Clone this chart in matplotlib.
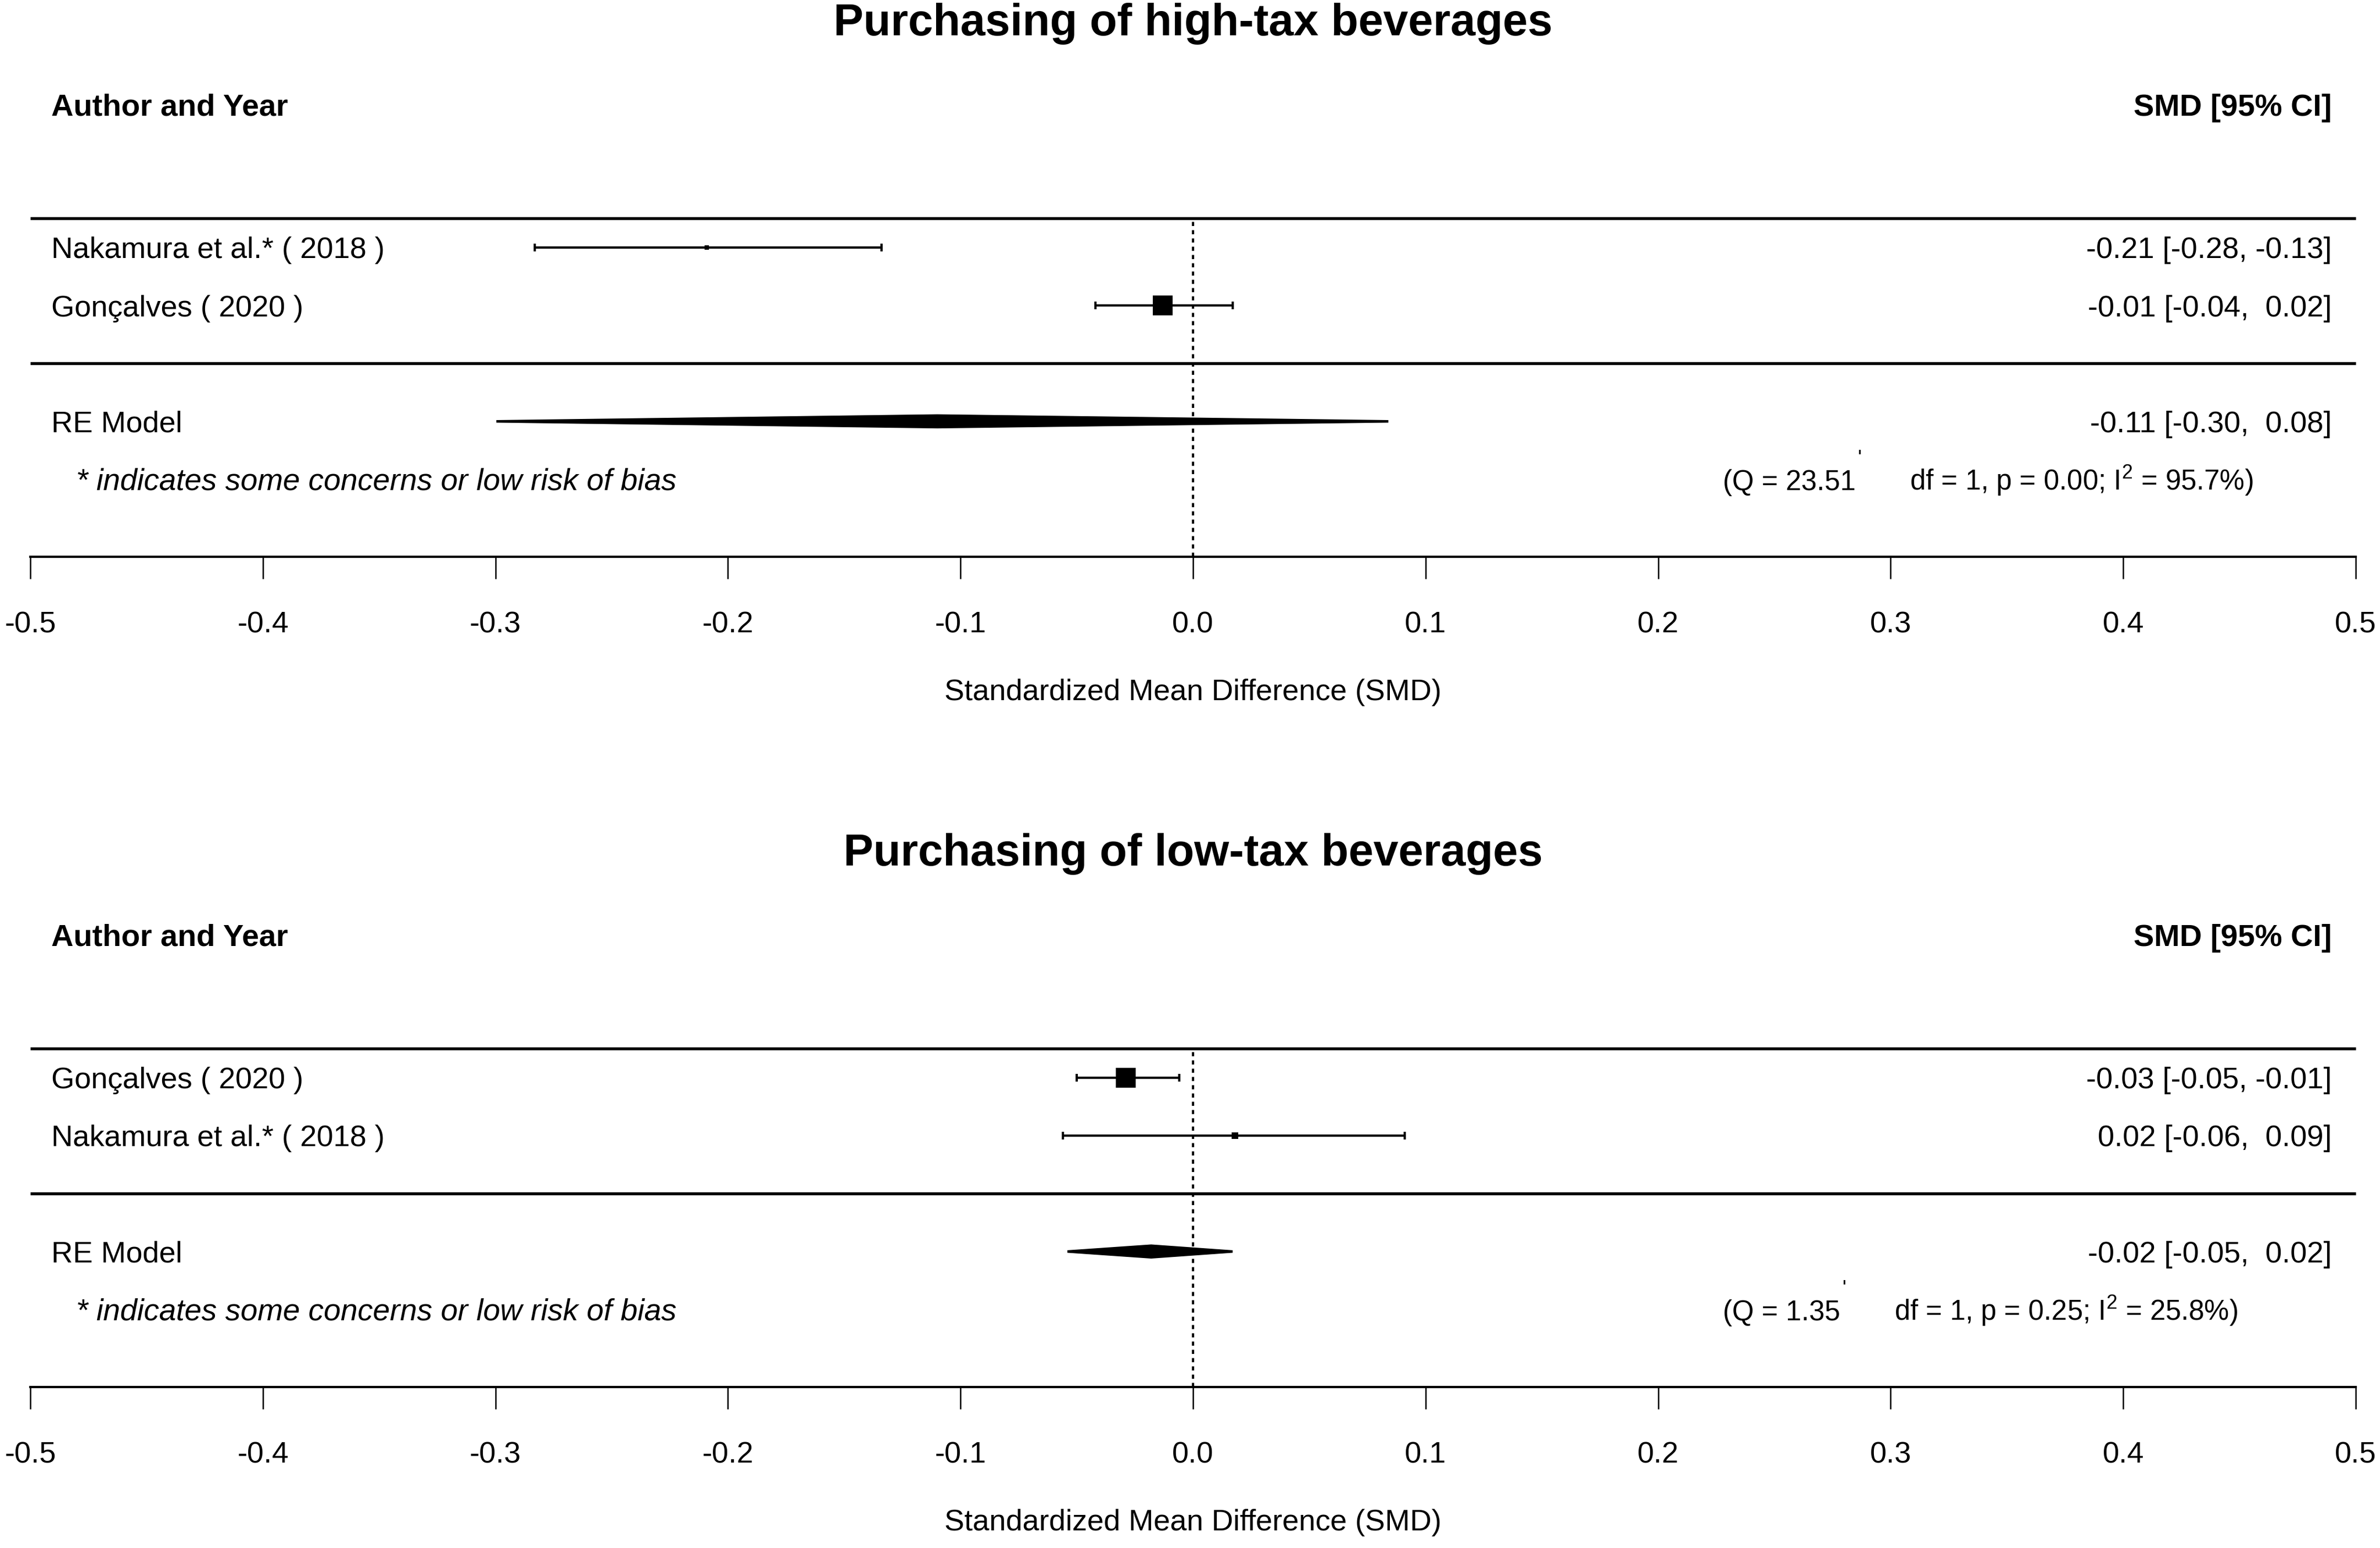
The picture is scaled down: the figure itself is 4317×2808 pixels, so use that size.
import matplotlib
matplotlib.use("Agg")
import matplotlib.pyplot as plt
import matplotlib.transforms as mtransforms

plt.rcParams['font.family'] = ['Liberation Sans', 'DejaVu Sans']
plt.rcParams['mathtext.fontset'] = 'custom'
plt.rcParams['mathtext.rm'] = 'Liberation Sans'
plt.rcParams['mathtext.it'] = 'Liberation Sans:italic'
plt.rcParams['mathtext.bf'] = 'Liberation Sans:bold'

# ---------------- data ----------------
panel_titles = ["Purchasing of high-tax beverages", "Purchasing of low-tax beverages"]

high_studies = ["Nakamura et al.* ( 2018 )", "Gonçalves ( 2020 )"]
high_est = [-0.209, -0.013]
high_lo = [-0.283, -0.042]
high_hi = [-0.134, 0.017]
high_re_est = -0.11
high_re_lo = -0.2996
high_re_hi = 0.084
high_Q = "23.51"
high_df = 1
high_p = "0.00"
high_I2 = "95.7"

low_studies = ["Gonçalves ( 2020 )", "Nakamura et al.* ( 2018 )"]
low_est = [-0.029, 0.018]
low_lo = [-0.050, -0.056]
low_hi = [-0.006, 0.091]
low_re_est = -0.018
low_re_lo = -0.054
low_re_hi = 0.017
low_Q = "1.35"
low_df = 1
low_p = "0.25"
low_I2 = "25.8"

tick_values = [-0.5, -0.4, -0.3, -0.2, -0.1, 0.0, 0.1, 0.2, 0.3, 0.4, 0.5]
tick_labels = ["-0.5", "-0.4", "-0.3", "-0.2", "-0.1", "0.0", "0.1", "0.2", "0.3", "0.4", "0.5"]
xlabel_text = "Standardized Mean Difference (SMD)"
header_left = "Author and Year"
header_right = "SMD [95% CI]"
note_text = "* indicates some concerns or low risk of bias"

# marker sizes (style)
high_msize = [2.0, 8.6]
low_msize = [8.6, 2.7]

# ---------------- figure ----------------
W, H = 4317, 2808
fig = plt.figure(figsize=(W / 300, H / 300), dpi=300)

FS = 13
FS_Q = 12.2
X_LEFT = -0.4909
X_RIGHT = 0.4896
X_NOTE = -0.4804
X_Q = 0.2278
BASE_OFF = 0.185
YMIN, YMAX = -0.34, 9.27


def fmt_ci(e, l, h):
    return f"{e:.2f} [{l:.2f}, {h:5.2f}]"


def draw_panel(ax, title, studies, est, lo, hi, re_est, re_lo, re_hi,
               Q, df, p, I2, msize):
    ax.set_xlim(-0.5, 0.5)
    ax.set_ylim(YMIN, YMAX)
    for s in ['top', 'right', 'left']:
        ax.spines[s].set_visible(False)
    ax.spines['bottom'].set_linewidth(1.0)
    ax.set_yticks([])
    ax.set_xticks(tick_values)
    ax.set_xticklabels(tick_labels)
    ax.tick_params(axis='x', direction='out', length=9.6, width=0.6,
                   labelsize=FS, pad=14)

    rows = [5, 4]
    # separators
    ax.hlines([5.5, 3.0], -0.5, 0.5, colors='black', lw=1.3, clip_on=False)
    # zero line
    ax.vlines(0.0, YMIN, 5.5, colors='black', lw=1.0,
              linestyles=(0, (1.8, 1.8)), clip_on=False)

    # study CIs
    xerr = [[e - l for e, l in zip(est, lo)], [h - e for e, h in zip(est, hi)]]
    ax.errorbar(est, rows, xerr=xerr, fmt='none', ecolor='black',
                elinewidth=1.0, capsize=1.6, capthick=1.0, clip_on=False)
    for e, r, m in zip(est, rows, msize):
        ax.plot([e], [r], marker='s', ms=m, color='black', mew=0, ls='none',
                clip_on=False)

    # RE model diamond
    re_row = 2
    h = 0.10
    ax.fill([re_lo, re_est, re_hi, re_est],
            [re_row, re_row + h, re_row, re_row - h],
            facecolor='black', edgecolor='black', lw=1.1, clip_on=False)

    # texts
    for s, r in zip(studies, rows):
        ax.text(X_LEFT, r - BASE_OFF, s, ha='left', va='baseline', fontsize=FS)
    for e, l, hh, r in zip(est, lo, hi, rows):
        ax.text(X_RIGHT, r - BASE_OFF, fmt_ci(e, l, hh), ha='right',
                va='baseline', fontsize=FS)
    ax.text(X_LEFT, re_row - BASE_OFF, "RE Model", ha='left', va='baseline',
            fontsize=FS)
    ax.text(X_RIGHT, re_row - BASE_OFF, fmt_ci(re_est, re_lo, re_hi),
            ha='right', va='baseline', fontsize=FS)

    ax.text(X_LEFT, 7.46 - BASE_OFF, header_left, ha='left', va='baseline',
            fontsize=13.4, fontweight='bold')
    ax.text(X_RIGHT, 7.46 - BASE_OFF, header_right, ha='right', va='baseline',
            fontsize=13.4, fontweight='bold')

    ax.text(0.0, 8.86, title, ha='center', va='center', fontsize=19.5,
            fontweight='bold')

    note_row = 1
    ax.text(X_NOTE, note_row - BASE_OFF, note_text, ha='left', va='baseline',
            fontsize=13.3, style='italic')

    t1 = ax.text(X_Q, note_row - BASE_OFF, f"(Q = {Q}", ha='left',
                 va='baseline', fontsize=FS_Q)
    ax.annotate("'", xy=(1, note_row - BASE_OFF), xycoords=(t1, 'data'),
                xytext=(1.0, 11), textcoords='offset points', ha='left',
                va='baseline', fontsize=9)
    ax.annotate(f"df = {df}, p = {p}; I$^2$ = {I2}%)",
                xy=(1, note_row - BASE_OFF), xycoords=(t1, 'data'),
                xytext=(23.5, 0), textcoords='offset points', ha='left',
                va='baseline', fontsize=FS_Q)

    tr = mtransforms.offset_copy(ax.transAxes, fig=fig, y=-59, units='points')
    ax.text(0.5, 0.0, xlabel_text, transform=tr, ha='center', va='center',
            fontsize=FS)


left = 20 / 1568
right = 1552 / 1568
ax_top = fig.add_axes([left, 1 - 367 / 1020, right - left, 367 / 1020])
ax_bot = fig.add_axes([left, 1 - 914 / 1020, right - left, 367 / 1020])
ax_top.patch.set_alpha(0)
ax_bot.patch.set_alpha(0)

draw_panel(ax_top, panel_titles[0], high_studies, high_est, high_lo, high_hi,
           high_re_est, high_re_lo, high_re_hi, high_Q, high_df, high_p,
           high_I2, high_msize)
draw_panel(ax_bot, panel_titles[1], low_studies, low_est, low_lo, low_hi,
           low_re_est, low_re_lo, low_re_hi, low_Q, low_df, low_p,
           low_I2, low_msize)

fig.savefig("out.png", dpi=300)
